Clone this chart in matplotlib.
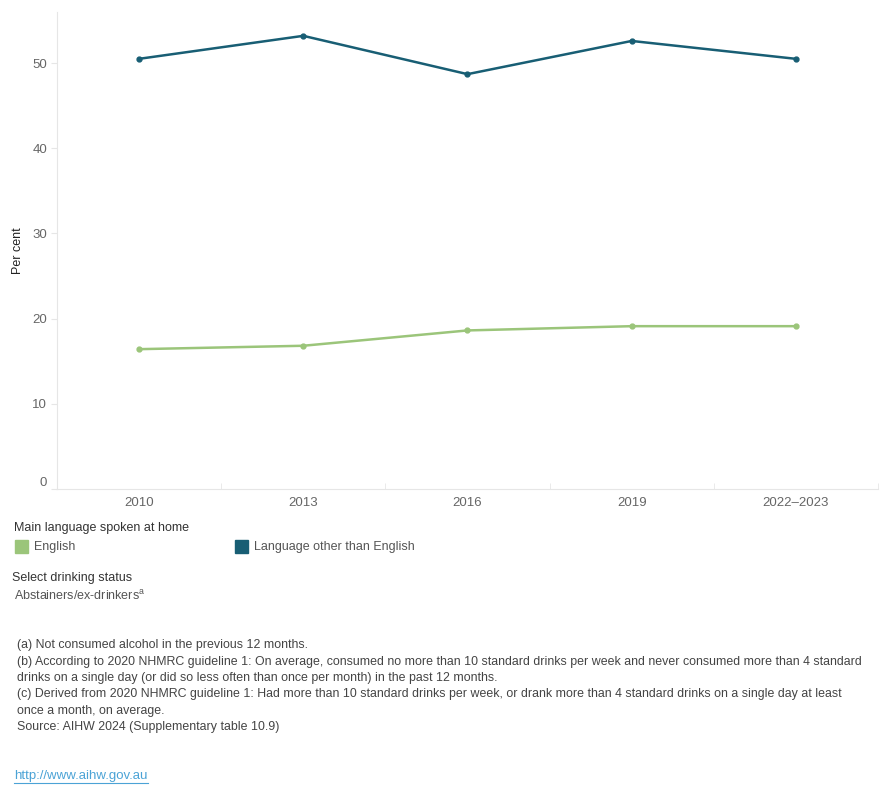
from matplotlib import pyplot as plt

years = ['2010', '2013', '2016', '2019', '2022–2023']
english = [16.4, 16.8, 18.6, 19.1, 19.1]
other_lang = [50.5, 53.2, 48.7, 52.6, 50.5]
series_names = ['English', 'Language other than English']
colors = ['#9BC57A', '#185E74']

notes = [
    '(a) Not consumed alcohol in the previous 12 months.',
    '(b) According to 2020 NHMRC guideline 1: On average, consumed no more than 10 standard drinks per week and never consumed more than 4 standard',
    'drinks on a single day (or did so less often than once per month) in the past 12 months.',
    '(c) Derived from 2020 NHMRC guideline 1: Had more than 10 standard drinks per week, or drank more than 4 standard drinks on a single day at least',
    'once a month, on average.',
    'Source: AIHW 2024 (Supplementary table 10.9)',
]

plt.rcParams['font.family'] = ['Liberation Sans', 'DejaVu Sans']
fig = plt.figure(figsize=(8.9, 8), dpi=100)
ax = fig.add_axes([0.064, 0.389, 0.9225, 0.596])

x = range(len(years))
ax.plot(x, english, color=colors[0], lw=1.8, marker='o', ms=3.5)
ax.plot(x, other_lang, color=colors[1], lw=1.8, marker='o', ms=3.5)

ax.set_xlim(-0.5, 4.5)
ax.set_ylim(0, 56)
ax.set_yticks([0, 10, 20, 30, 40, 50])
ax.set_xticks(list(x))
ax.set_xticklabels(years)
ax.set_xticks([i + 0.5 for i in range(-1, 5)], minor=True)
ax.tick_params(axis='x', which='major', length=0, pad=6, labelcolor='#666666', labelsize=9.5)
ax.tick_params(axis='x', which='minor', length=4, color='#e6e6e6', direction='in')
ax.tick_params(axis='y', length=4, color='#e6e6e6', labelcolor='#666666', labelsize=9.5, pad=3)
ax.get_yticklabels()[0].set_va('bottom')
for s in ['top', 'right']:
    ax.spines[s].set_visible(False)
for s in ['left', 'bottom']:
    ax.spines[s].set_color('#e6e6e6')
ax.set_ylabel('Per cent', fontsize=9, color='#222222', labelpad=6)

# legend area
fig.text(14 / 890, 1 - 528 / 800, 'Main language spoken at home', fontsize=9, color='#333333', va='center')
lx = [15, 235]
for i in range(2):
    fig.patches.append(plt.Rectangle((lx[i] / 890, 1 - 553 / 800), 13 / 890, 13 / 800,
                                     transform=fig.transFigure, color=colors[i]))
    fig.text((lx[i] + 19) / 890, 1 - 547 / 800, series_names[i], fontsize=9, color='#555555', va='center')

fig.text(12 / 890, 1 - 578 / 800, 'Select drinking status', fontsize=9, color='#333333', va='center')
fig.text(14 / 890, 1 - 596 / 800, 'Abstainers/ex-drinkers$^{\\mathregular{a}}$', fontsize=9, color='#555555', va='center')

ys = [645, 662, 678, 694, 711, 727]
for t, yy in zip(notes, ys):
    fig.text(17 / 890, 1 - yy / 800, t, fontsize=8.95, color='#444444', va='center')

fig.text(14 / 890, 1 - 776 / 800, 'http://www.aihw.gov.au', fontsize=9.5, color='#4BA3D6', va='center')
fig.lines.append(plt.Line2D([14 / 890, 148 / 890], [1 - 783 / 800] * 2, transform=fig.transFigure,
                            color='#4BA3D6', lw=0.8))

plt.savefig('out.png', dpi=100)
